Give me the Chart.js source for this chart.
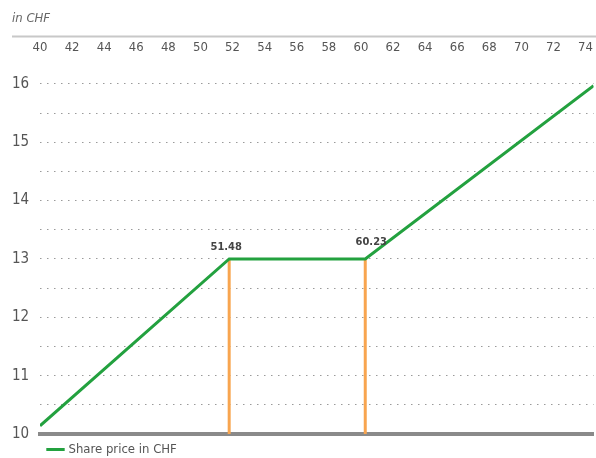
<!DOCTYPE html>
<html><head><meta charset="utf-8">
<script src="https://cdn.jsdelivr.net/npm/chart.js@4/dist/chart.umd.min.js"></script>
<style>html,body{margin:0;padding:0;background:#fff}#wrap{width:596px;height:458px}</style>
</head><body><div id="wrap"><canvas id="c" width="596" height="458"></canvas></div>
<script>
const priceX = [40, 51.79, 60.27, 74.5];
const priceY = [10.14, 13, 13, 15.97];
const thresholds = [51.79, 60.27];
const thresholdLabels = ['51.48', '60.23'];
const floorValue = 10;
const capValue = 13;
const seriesName = 'Share price in CHF';
const unitTitle = 'in CHF';

const FONT = '"Liberation Sans Narrow", "DejaVu Sans Condensed", "Liberation Sans", sans-serif';
const GREEN = '#23a13f';
const ORANGE = '#f8a54f';

const priceData = priceX.map((x, i) => ({x, y: priceY[i]}));
const vlines = thresholds.map(t => ({
  label: 'thr' + t, data: [{x: t, y: floorValue}, {x: t, y: capValue}],
  borderColor: ORANGE, borderWidth: 3, pointRadius: 0, showLine: true, fill: false
}));

const labelPlugin = {
  id: 'thrLabels',
  afterDatasetsDraw(chart) {
    const {ctx, scales: {x, y}} = chart;
    ctx.save();
    ctx.font = 'bold 11px ' + FONT;
    ctx.fillStyle = '#444';
    ctx.textAlign = 'center';
    ctx.textBaseline = 'bottom';
    thresholds.forEach((t, i) => {
      const px = x.getPixelForValue(t) + (i === 1 ? 6 : -3);
      const py = y.getPixelForValue(capValue) - (i === 1 ? 11 : 6);
      ctx.fillText(thresholdLabels[i], px, py);
    });
    ctx.restore();
  }
};

const topRule = {
  id: 'topRule',
  beforeDatasetsDraw(chart) {
    const {ctx, scales: {x}} = chart;
    ctx.save();
    ctx.strokeStyle = '#c8c8c8';
    ctx.lineWidth = 2;
    ctx.beginPath();
    ctx.moveTo(12, x.bottom);
    ctx.lineTo(chart.width, x.bottom);
    ctx.stroke();
    ctx.restore();
  }
};

new Chart(document.getElementById('c'), {
  type: 'line',
  data: {
    datasets: [
      {label: seriesName, data: priceData, borderColor: GREEN, backgroundColor: GREEN,
       borderWidth: 3, pointRadius: 0, tension: 0, fill: false},
      ...vlines
    ]
  },
  options: {
    responsive: false, animation: false,
    layout: {padding: {left: 12, right: 0, top: 0, bottom: -8}},
    scales: {
      x: {
        type: 'linear', position: 'top', min: 40, max: 74.5,
        grid: {display: false, drawTicks: false},
        border: {display: false},
        ticks: {stepSize: 2, includeBounds: false, autoSkip: false, mirror: true, padding: 3,
                maxRotation: 0, color: '#555', font: {family: FONT, size: 13}},
        afterBuildTicks: s => { s.ticks = s.ticks.filter(t => t.value <= 74 && t.value % 2 === 0); },
        afterFit: s => { s.height = 0; }
      },
      x2: {
        type: 'linear', position: 'bottom', min: 40, max: 74.5,
        grid: {display: false, drawTicks: false},
        border: {display: true, color: '#8a8a8a', width: 4},
        ticks: {display: false},
        afterFit: s => { s.height = 0; }
      },
      y: {
        type: 'linear', min: 10, max: 16.81,
        grid: {color: '#9a9a9a', lineWidth: 1, drawTicks: false},
        border: {display: false, dash: [1.5, 5.5]},
        ticks: {stepSize: 0.5, includeBounds: false, crossAlign: 'far', padding: 0,
                color: '#555', font: {family: FONT, size: 15},
                callback: v => Number.isInteger(v) ? String(v) : ''},
        afterBuildTicks: s => { s.ticks = s.ticks.filter(t => t.value <= 16 && Number.isInteger(t.value * 2)); },
        afterFit: s => { s.width = 28; }
      }
    },
    plugins: {
      title: {display: true, text: unitTitle, align: 'start', color: '#666',
              font: {family: FONT, size: 13, style: 'italic', weight: 'normal'},
              padding: {top: 11, bottom: 10}},
      legend: {position: 'bottom', align: 'start', fullSize: false,
               labels: {usePointStyle: true, pointStyle: 'line', boxWidth: 15, padding: 9,
                        color: '#555', font: {family: FONT, size: 13},
                        filter: item => item.datasetIndex === 0}},
      tooltip: {enabled: false}
    }
  },
  plugins: [labelPlugin, topRule]
});
</script></body></html>
